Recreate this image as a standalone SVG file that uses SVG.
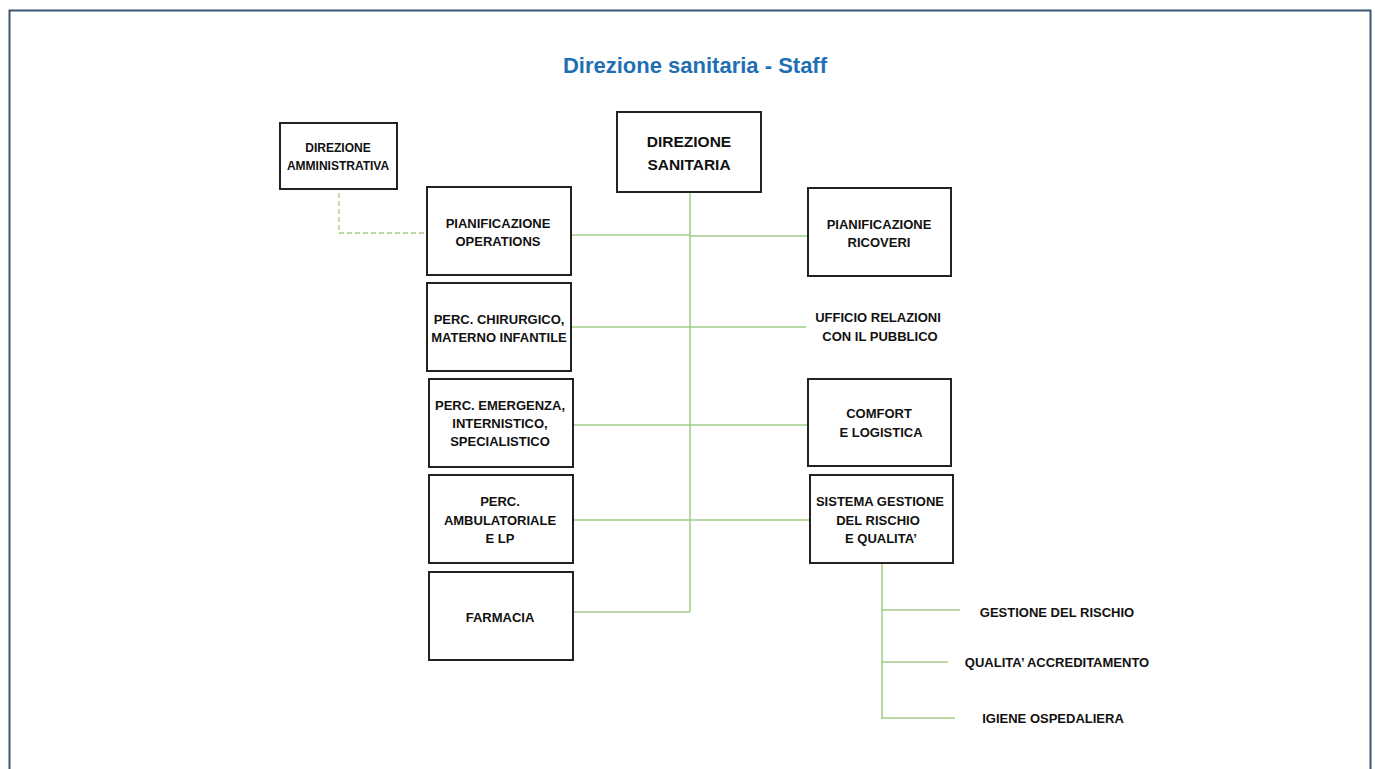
<svg xmlns="http://www.w3.org/2000/svg" width="1375" height="769" viewBox="0 0 1375 769">
<style>
.box{fill:#fff;stroke:#222;stroke-width:2}
.t{font-family:"Liberation Sans",Arial,sans-serif;font-weight:bold;font-size:13px;fill:#111;text-anchor:middle}
.big{font-size:15.5px}
.sm{font-size:12px}
.c{stroke:#a2cc86;stroke-width:1.5;fill:none}
.d{stroke:#a2cc86;stroke-width:1.3;fill:none;stroke-dasharray:5 3}
</style>
<rect x="0" y="0" width="1375" height="769" fill="#fff"/>
<path d="M9.5 775 V10.5 H1370.5 V775" fill="none" stroke="#3d5470" stroke-width="2"/>
<text x="695" y="73" font-family="'Liberation Sans',Arial,sans-serif" font-weight="bold" font-size="22" fill="#1f6fb5" text-anchor="middle">Direzione sanitaria - Staff</text>
<g id="connectors">
<line class="c" x1="690" y1="192" x2="690" y2="612"/>
<line class="c" x1="571" y1="235" x2="690" y2="235"/>
<line class="c" x1="690" y1="236" x2="808" y2="236"/>
<line class="c" x1="571" y1="327" x2="806" y2="327"/>
<line class="c" x1="573" y1="425" x2="808" y2="425"/>
<line class="c" x1="573" y1="520" x2="810" y2="520"/>
<line class="c" x1="573" y1="612" x2="690" y2="612"/>
<path class="d" d="M339 193 V233 H427"/>
<line class="c" x1="882" y1="563" x2="882" y2="718"/>
<line class="c" x1="882" y1="610" x2="960" y2="610"/>
<line class="c" x1="881" y1="662" x2="948" y2="662"/>
<line class="c" x1="881" y1="718" x2="955" y2="718"/>
</g>
<g id="direzione-amministrativa">
<rect class="box" x="280" y="123" width="117" height="66"/>
<text class="t sm" x="338" y="152">DIREZIONE</text>
<text class="t sm" x="338" y="170">AMMINISTRATIVA</text>
</g>
<g id="direzione-sanitaria">
<rect class="box" x="617" y="112" width="144" height="80"/>
<text class="t big" x="689" y="147">DIREZIONE</text>
<text class="t big" x="689" y="170">SANITARIA</text>
</g>
<g id="pianificazione-operations">
<rect class="box" x="427" y="187" width="144" height="88"/>
<text class="t" x="498" y="228">PIANIFICAZIONE</text>
<text class="t" x="498" y="246">OPERATIONS</text>
</g>
<g id="perc-chirurgico">
<rect class="box" x="427" y="283" width="144" height="88"/>
<text class="t" x="499" y="324">PERC. CHIRURGICO,</text>
<text class="t" x="499" y="342">MATERNO INFANTILE</text>
</g>
<g id="perc-emergenza">
<rect class="box" x="429" y="379" width="144" height="88"/>
<text class="t" x="500" y="410">PERC. EMERGENZA,</text>
<text class="t" x="500" y="428">INTERNISTICO,</text>
<text class="t" x="500" y="446">SPECIALISTICO</text>
</g>
<g id="perc-ambulatoriale">
<rect class="box" x="429" y="475" width="144" height="88"/>
<text class="t" x="500" y="506">PERC.</text>
<text class="t" x="500" y="525">AMBULATORIALE</text>
<text class="t" x="500" y="543">E LP</text>
</g>
<g id="farmacia">
<rect class="box" x="429" y="572" width="144" height="88"/>
<text class="t" x="500" y="622">FARMACIA</text>
</g>
<g id="pianificazione-ricoveri">
<rect class="box" x="808" y="188" width="143" height="88"/>
<text class="t" x="879" y="229">PIANIFICAZIONE</text>
<text class="t" x="879" y="247">RICOVERI</text>
</g>
<g id="ufficio-relazioni">
<text class="t" x="878" y="322">UFFICIO RELAZIONI</text>
<text class="t" x="880" y="341">CON IL PUBBLICO</text>
</g>
<g id="comfort">
<rect class="box" x="808" y="379" width="143" height="87"/>
<text class="t" x="879" y="418">COMFORT</text>
<text class="t" x="881" y="437">E LOGISTICA</text>
</g>
<g id="sistema-gestione">
<rect class="box" x="810" y="475" width="143" height="88"/>
<text class="t" x="880" y="506">SISTEMA GESTIONE</text>
<text class="t" x="878" y="525">DEL RISCHIO</text>
<text class="t" x="881" y="543">E QUALITA’</text>
</g>
<g id="gestione-rischio">
<text class="t" x="1057" y="617">GESTIONE DEL RISCHIO</text>
</g>
<g id="qualita-accreditamento">
<text class="t" x="1057" y="667">QUALITA’ ACCREDITAMENTO</text>
</g>
<g id="igiene-ospedaliera">
<text class="t" x="1053" y="723">IGIENE OSPEDALIERA</text>
</g>
</svg>
